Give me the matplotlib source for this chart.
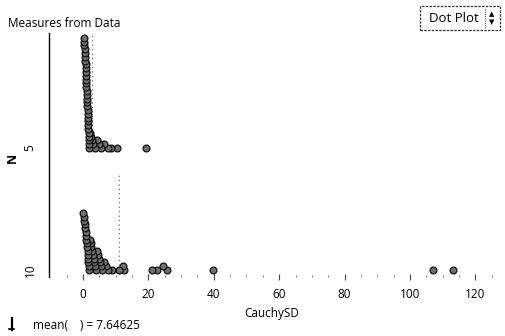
import matplotlib
matplotlib.use("Agg")
import matplotlib.pyplot as plt
from matplotlib.patches import Rectangle
from matplotlib.lines import Line2D
import numpy as np

# ---------------- data ----------------
categories = ["5", "10"]
sd_n5 = [0.21, 0.35, 0.44, 0.52, 0.58, 0.66, 0.71, 0.77, 0.83, 0.86,
         0.92, 0.97, 1.03, 1.06, 1.12, 1.18, 1.21, 1.27, 1.33, 1.38,
         1.42, 1.49, 1.55, 1.58, 1.63, 1.69, 1.74, 1.81, 1.88, 1.95,
         2.1, 2.4, 2.7, 3.1, 3.6,
         4.3, 4.9, 5.6,
         6.4, 7.5,
         8.6, 10.4, 19.3]
sd_n10 = [0.15, 0.28, 0.45, 0.61, 0.74, 0.88, 0.95, 1.0, 1.13, 1.26,
          1.39, 1.45, 1.52, 1.64, 1.77, 1.9,
          2.08, 2.3, 2.55, 2.78, 3.0, 3.22, 3.45, 3.68, 3.9,
          4.2, 4.5, 4.85, 5.15, 5.5, 5.8,
          6.3, 6.9, 7.6,
          8.8, 11.0, 12.3, 12.6,
          21.2, 22.7, 24.5, 25.8, 39.9, 107.0, 113.2]
xticks = [0, 20, 40, 60, 80, 100, 120]
title = "Measures from Data"
xlabel = "CauchySD"
ylabel = "N"
summary = "mean(    ) = 7.64625"

# ---------------- figure ----------------
W, H = 505, 336
fig = plt.figure(figsize=(W / 100, H / 100), dpi=100)
fig.patch.set_facecolor("white")
FONT = "Open Sans"

def fx(px):
    return px / W

def fy(py):
    return 1 - py / H

ax_left, ax_right, ax_top, ax_bottom = 49, 495, 33, 277
ax = fig.add_axes([fx(ax_left), fy(ax_bottom), (ax_right - ax_left) / W,
                   (ax_bottom - ax_top) / H])
ax.set_xlim(-10.4, 126)
ax.set_ylim(0, ax_bottom - ax_top)

base = {"5": 129, "10": 7}
band_top = {"5": ax_bottom - ax_top, "10": 102}
step = 3.8
binw = 2.0

groups = {"5": sd_n5, "10": sd_n10}
for cat in categories:
    vals = np.array(sorted(groups[cat], reverse=True))
    counts = {}
    ys = []
    for v in vals:
        b = int(np.floor(v / binw))
        k = counts.get(b, 0)
        counts[b] = k + 1
        ys.append(base[cat] + k * step)
    m = np.mean(groups[cat])
    ax.plot([m, m], [base[cat] - 4, band_top[cat]], color="#555555",
            lw=0.8, ls=(0, (1, 3)), zorder=1)
    ax.scatter(vals, ys, s=24, facecolor="#6f6f6f", edgecolor="#111111",
               linewidths=0.9, zorder=3, clip_on=False)

# axes styling
for sp in ["top", "right", "bottom"]:
    ax.spines[sp].set_visible(False)
ax.spines["left"].set_color("black")
ax.spines["left"].set_linewidth(1.0)
ax.set_xticks(xticks)
ax.set_xticklabels([str(t) for t in xticks], fontsize=8.5, family=FONT)
ax.set_xticks(np.arange(-5, 126, 5), minor=True)
ax.tick_params(axis="x", which="major", direction="inout", length=4,
               width=0.8, color="#444444", pad=6)
ax.tick_params(axis="x", which="minor", direction="in", length=1.5,
               width=0.8, color="#777777")
ax.set_yticks([base[c] for c in categories])
ax.set_yticklabels(categories, rotation=90, fontsize=8.5, family=FONT,
                   va="center")
ax.tick_params(axis="y", length=0, pad=9)
ax.set_xlabel(xlabel, fontsize=8.5, family=FONT, labelpad=4)

# labels outside axes
fig.text(fx(8), fy(27), title, fontsize=8.5, family=FONT, ha="left",
         va="baseline")
fig.text(fx(12), fy(158), ylabel, fontsize=9, family=FONT, weight="bold",
         rotation=90, ha="center", va="center")
fig.text(fx(33), fy(329), summary, fontsize=8.5, family=FONT, ha="left",
         va="baseline")
fig.add_artist(Line2D([fx(12), fx(12)], [fy(318), fy(330)], color="black",
                      lw=1.6))
fig.add_artist(Line2D([fx(9), fx(14)], [fy(329), fy(329)], color="black",
                      lw=1.2))

# "Dot Plot" selector box
fig.add_artist(Rectangle((fx(420), fy(30)), (500 - 420) / W, (30 - 6) / H,
                         facecolor="white", edgecolor="#333333", lw=0.9,
                         ls=(0, (2, 1))))
fig.text(fx(429), fy(18), "Dot Plot", fontsize=9.5, family=FONT, ha="left",
         va="center")
fig.add_artist(Line2D([fx(485), fx(485)], [fy(9), fy(28)], color="#555555",
                      lw=0.8, ls=(0, (1, 1))))
fig.text(fx(492), fy(14), "\u25b2", fontsize=5, ha="center", va="center")
fig.text(fx(492), fy(22), "\u25bc", fontsize=5, ha="center", va="center")

fig.savefig("out.png", dpi=100, facecolor="white")
